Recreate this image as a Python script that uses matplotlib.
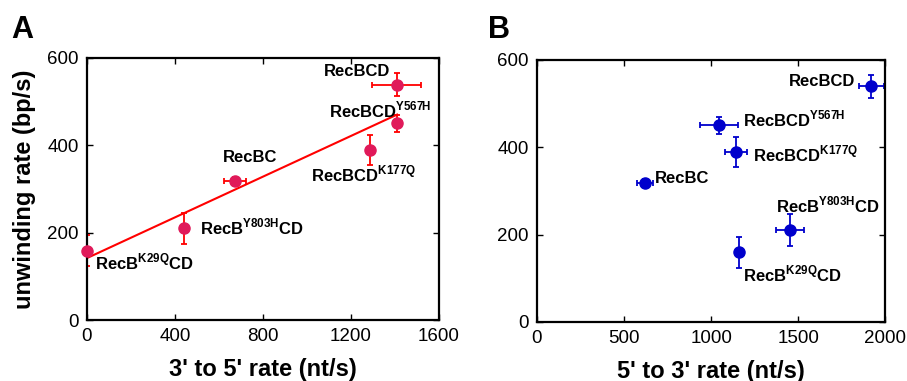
import matplotlib
matplotlib.use('Agg')
import matplotlib.pyplot as plt
import numpy as np

plt.rcParams['font.family'] = ['Liberation Sans', 'DejaVu Sans']
plt.rcParams['mathtext.fontset'] = 'custom'
plt.rcParams['mathtext.rm'] = 'Liberation Sans'
plt.rcParams['mathtext.bf'] = 'Liberation Sans:bold'

# Nombres de las enzimas (mismo orden en todas las listas)
labels = [r'RecBCD', r'RecBCD$^{\mathbf{Y567H}}$', r'RecBCD$^{\mathbf{K177Q}}$',
          r'RecBC', r'RecB$^{\mathbf{Y803H}}$CD', r'RecB$^{\mathbf{K29Q}}$CD']

# Velocidad de desenrollado (bp/s) y su error
unwinding = [539, 450, 389, 319, 210, 159]
unwinding_err = [27, 20, 35, 8, 36, 36]

# Panel A: velocidad 3' a 5' (nt/s)
rate_35 = [1408, 1410, 1287, 671, 440, 0]
rate_35_err = [110, 10, 10, 50, 10, 0]

# Panel B: velocidad 5' a 3' (nt/s)
rate_53 = [1920, 1048, 1143, 621, 1453, 1162]
rate_53_err = [73, 109, 63, 45, 80, 10]

# Posiciones de las etiquetas (x, y, alineación)
pos_a = [(1378, 568, 'right'), (1100, 480, 'left'), (1017, 333, 'left'),
         (619, 371, 'left'), (513, 212, 'left'), (38, 133, 'left')]
pos_b = [(1826, 550, 'right'), (1182, 465, 'left'), (1239, 384, 'left'),
         (675, 329, 'left'), (1371, 268, 'left'), (1185, 110, 'left')]


# Función para dar formato a cada eje
def style_axis(ax, xmax, xticks):
    ax.set_xlim(0, xmax)
    ax.set_ylim(0, 600)
    ax.set_xticks(xticks)
    ax.set_yticks([0, 200, 400, 600])
    ax.tick_params(direction='in', top=True, right=True, length=4, width=1,
                   labelsize=13.5, pad=6)
    for s in ax.spines.values():
        s.set_linewidth(1.6)


# Función para dibujar puntos con barras de error y etiquetas
def draw_points(ax, x, xerr, color, ecolor, positions):
    ax.errorbar(x, unwinding, xerr=xerr, yerr=unwinding_err, fmt='none',
                ecolor=ecolor, elinewidth=1.3, capsize=2.5, capthick=1.3, zorder=2)
    ax.plot(x, unwinding, 'o', color=color, ms=8, zorder=3, clip_on=False)
    for lab, (tx, ty, ha) in zip(labels, positions):
        ax.text(tx, ty, lab, ha=ha, va='center', fontsize=12, fontweight='bold')


fig = plt.figure(figsize=(9.07, 3.81), dpi=100)
ax1 = fig.add_axes([0.0959, 0.160, 0.388, 0.688])
ax2 = fig.add_axes([0.592, 0.155, 0.384, 0.688])

# Panel A con ajuste lineal
slope, intercept = np.polyfit(rate_35, unwinding, 1)
xfit = np.array([0, max(rate_35)])
ax1.plot(xfit, slope * xfit + intercept, color='red', lw=1.5, zorder=2)
draw_points(ax1, rate_35, rate_35_err, '#E01A5A', 'red', pos_a)
style_axis(ax1, 1600, [0, 400, 800, 1200, 1600])
ax1.set_xlabel("3' to 5' rate (nt/s)", fontsize=17, fontweight='bold', labelpad=9)
ax1.set_ylabel('unwinding rate (bp/s)', fontsize=17, fontweight='bold', labelpad=8)

# Panel B
draw_points(ax2, rate_53, rate_53_err, '#0000CC', '#0000CC', pos_b)
style_axis(ax2, 2000, [0, 500, 1000, 1500, 2000])
ax2.set_xlabel("5' to 3' rate (nt/s)", fontsize=17, fontweight='bold', labelpad=9)

# Letras de los paneles
fig.text(0.012, 0.92, 'A', fontsize=22, fontweight='bold', va='center')
fig.text(0.538, 0.92, 'B', fontsize=22, fontweight='bold', va='center')

fig.savefig('out.png', dpi=100)
